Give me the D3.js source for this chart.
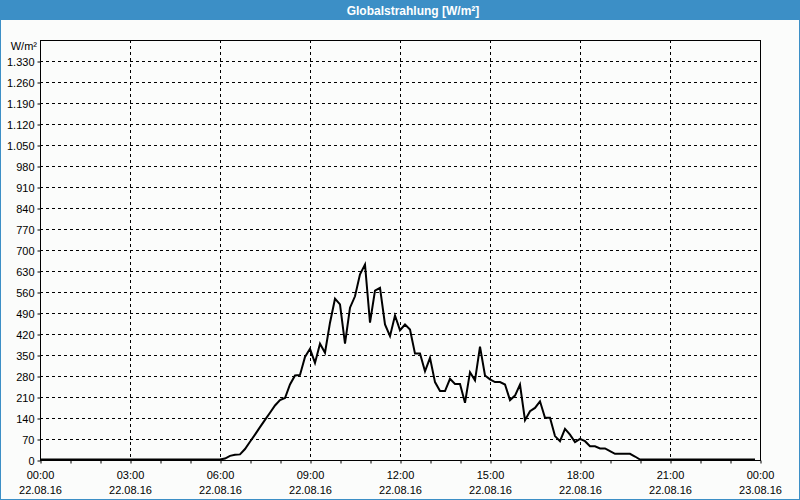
<!DOCTYPE html>
<html>
<head>
<meta charset="utf-8">
<script src="https://cdn.jsdelivr.net/npm/d3@7"></script>
<style>
  html, body { margin: 0; padding: 0; background: #fbfcfb; }
  svg { display: block; }
  text { font-family: "Liberation Sans", Arial, sans-serif; font-size: 11px; fill: #000; }
</style>
</head>
<body>
<svg id="chart" width="800" height="500"></svg>
<script>
// ---- data ----
const chartTitle = "Globalstrahlung [W/m²]";
const unitLabel = "W/m²";
const startTime = "2016-08-22T00:00:00";
const endTime = "2016-08-23T00:00:00";
const sampleMinutes = 10;
// one value every 10 minutes, 00:00 .. 23:50
const values = [
  // 00:00 - 05:50
  0,0,0,0,0,0, 0,0,0,0,0,0, 0,0,0,0,0,0, 0,0,0,0,0,0, 0,0,0,0,0,0, 0,0,0,0,0,0,
  // 06:00
  0,3,12,16,17,35,
  // 07:00
  59,83,108,132,156,180,
  // 08:00
  198,205,250,280,282,342,
  // 09:00
  369,322,386,356,456,536,
  // 10:00
  517,386,506,544,617,650,
  // 11:00
  456,563,572,450,411,480,
  // 12:00
  431,450,433,353,353,294,
  // 13:00
  339,258,228,228,269,252,
  // 14:00
  252,189,291,264,376,280,
  // 15:00
  267,258,258,250,198,213,
  // 16:00
  250,131,161,172,194,139,
  // 17:00
  139,78,61,102,83,58,
  // 18:00
  69,61,44,44,37,37,
  // 19:00
  28,19,19,19,19,10,
  // 20:00 - 23:50
  0,0,0,0,0,0, 0,0,0,0,0,0, 0,0,0,0,0,0, 0,0,0,0,0,0
];
const yTicks = [0,70,140,210,280,350,420,490,560,630,700,770,840,910,980,1050,1120,1190,1260,1330];
const yMax = 1400;
const xTickHours = [0,3,6,9,12,15,18,21,24];

// ---- drawing ----
const svg = d3.select("#chart");
const W = 800, H = 500;
const blue = "#3c8fc6";
const plot = {left: 40, right: 760, top: 40, bottom: 460};

// background + window frame
svg.append("rect").attr("x",0).attr("y",0).attr("width",W).attr("height",H).attr("fill","#fbfcfb");
svg.append("rect").attr("x",0.5).attr("y",0.5).attr("width",W-1).attr("height",H-1)
  .attr("fill","none").attr("stroke",blue).attr("stroke-width",1);
svg.append("rect").attr("x",0).attr("y",0).attr("width",W).attr("height",20).attr("fill",blue);
svg.append("text").attr("x",413).attr("y",14.5).attr("text-anchor","middle")
  .style("font-weight","bold").style("font-size","12px").style("fill","#fff").text(chartTitle);

const t0 = new Date(startTime), t1 = new Date(endTime);
const x = d3.scaleTime().domain([t0, t1]).range([plot.left, plot.right]);
const y = d3.scaleLinear().domain([0, yMax]).range([plot.bottom, plot.top]);

const data = values.map((v, i) => ({t: new Date(t0.getTime() + i * sampleMinutes * 60000), v}));

const crisp = v => Math.round(v) + 0.5;

// horizontal grid
const g = svg.append("g");
g.selectAll("line.hg").data(yTicks.filter(d => d > 0)).join("line")
  .attr("x1", plot.left).attr("x2", plot.right)
  .attr("y1", d => crisp(y(d))).attr("y2", d => crisp(y(d)))
  .attr("stroke","#000").attr("stroke-width",1).attr("stroke-dasharray","3,3");

// vertical grid
const hourTimes = xTickHours.map(h => new Date(t0.getTime() + h * 3600000));
g.selectAll("line.vg").data(hourTimes.slice(1, -1)).join("line")
  .attr("x1", d => crisp(x(d))).attr("x2", d => crisp(x(d)))
  .attr("y1", plot.top).attr("y2", plot.bottom)
  .attr("stroke","#000").attr("stroke-width",1).attr("stroke-dasharray","3,3");

// Y axis
const yAxis = d3.axisLeft(y).tickValues(yTicks).tickSize(3).tickPadding(3)
  .tickFormat(d => d3.format(",")(d).replace(/,/g, "."));
const ya = svg.append("g").attr("transform", `translate(${plot.left + 0.5},0.5)`).call(yAxis);
ya.select(".domain").remove();
ya.selectAll("text").style("font-family","Liberation Sans, Arial, sans-serif").style("font-size","11px").attr("fill","#000");

// X axis: hourly ticks
const allHours = d3.timeHour.range(t0, new Date(t1.getTime() + 1));
const xAxis = d3.axisBottom(x).tickValues(allHours).tickSize(3).tickFormat("");
const xa = svg.append("g").attr("transform", `translate(0.5,${plot.bottom + 0.5})`).call(xAxis);
xa.select(".domain").remove();

// X labels (two lines)
const fmtT = d3.timeFormat("%H:%M"), fmtD = d3.timeFormat("%d.%m.%y");
const xl = svg.append("g");
xl.selectAll("text.t").data(hourTimes).join("text")
  .attr("x", d => x(d) + 0.5).attr("y", 479).attr("text-anchor","middle").text(d => fmtT(d));
xl.selectAll("text.d").data(hourTimes).join("text")
  .attr("x", d => x(d) + 0.5).attr("y", 494).attr("text-anchor","middle").text(d => fmtD(d));

// unit label
svg.append("text").attr("x", 37).attr("y", 50).attr("text-anchor","end").text(unitLabel);

// plot frame
svg.append("rect").attr("x", plot.left + 0.5).attr("y", plot.top + 0.5)
  .attr("width", plot.right - plot.left).attr("height", plot.bottom - plot.top)
  .attr("fill","none").attr("stroke","#000").attr("stroke-width",1);

// data line
const line = d3.line().x(d => x(d.t)).y(d => y(d.v) - 0.5);
svg.append("path").datum(data).attr("d", line)
  .attr("fill","none").attr("stroke","#000").attr("stroke-width",2).attr("stroke-linejoin","miter");
</script>
</body>
</html>
